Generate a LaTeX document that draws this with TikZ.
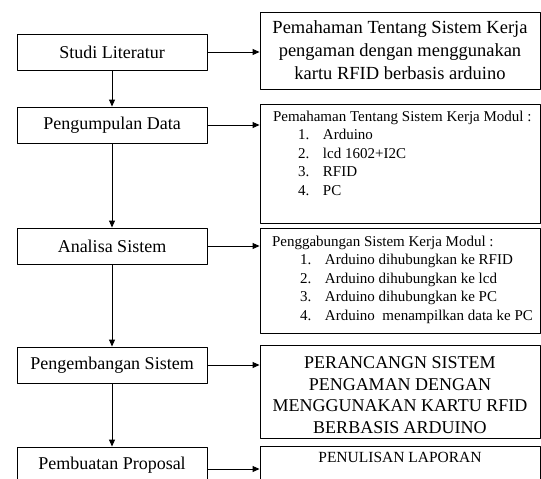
\documentclass[tikz,border=0pt]{standalone}
\usepackage{fontspec}
\setmainfont{Liberation Serif}
\usetikzlibrary{arrows.meta,positioning}
\newcommand{\moditem}[3][25pt]{\hspace*{#1}\makebox[25pt][l]{#2}#3}
\begin{document}
\begin{tikzpicture}[x=1pt, y=-1pt, line cap=round, line join=round, line width=0.9pt, >={Triangle[length=7pt,width=6pt]}]
			\tikzset{step box/.style={draw, minimum width=190pt, minimum height=36pt, inner sep=0pt, font=\fontsize{18}{22}\selectfont},
				info box/.style={draw, minimum width=280pt, inner sep=0pt},
				info text/.style={anchor=north west, inner sep=0pt, align=left, font=\fontsize{15}{18.5}\selectfont}}
			\useasboundingbox (0,0) rectangle (541,479);
			\clip (0,0) rectangle (541,479);
			\node[step box] (studi) at (112,52) {Studi Literatur};
			\node[step box] (pengumpulan) at (112,125) {Pengumpulan Data};
			\node[step box] (analisa) at (112,246) {Analisa Sistem};
			\node[step box] (pengembangan) at (112,365) {Pengembangan Sistem};
			\node[step box] (pembuatan) at (112,465) {Pembuatan Proposal};
			\node[info box, minimum height=77pt, align=center, font=\fontsize{18.5}{23}\selectfont] (pemahaman) at (400,50.5) {Pemahaman Tentang Sistem Kerja\\pengaman dengan menggunakan\\kartu RFID berbasis arduino};
			\node[info box, minimum height=119pt] (modul) at (400,163.5) {};
			\node[info box, minimum height=105pt] (gabung) at (400,280.5) {};
			\node[info box, minimum height=93pt] (rancang) at (400,391.5) {};
			\node[info box, minimum height=64pt] (laporan) at (400,478) {};
			\node[info text] (modultext) at ([xshift=13pt, yshift=-7pt]modul.north west) {Pemahaman Tentang Sistem Kerja Modul :\\
				\moditem{1.}{Arduino}\\ \moditem{2.}{lcd 1602+I2C}\\ \moditem{3.}{RFID}\\ \moditem{4.}{PC}};
			\node[info text] (gabungtext) at ([xshift=12pt, yshift=-8pt]gabung.north west) {Penggabungan Sistem Kerja Modul :\\
				\moditem[28pt]{1.}{Arduino dihubungkan ke RFID}\\ \moditem[28pt]{2.}{Arduino dihubungkan ke lcd}\\
				\moditem[28pt]{3.}{Arduino dihubungkan ke PC}\\ \moditem[28pt]{4.}{Arduino\ \ menampilkan data ke PC}};
			\node[inner sep=0pt, align=center, font=\fontsize{18}{21.7}\selectfont] (rancangtext) at ([yshift=-3.5pt]rancang.center) {PERANCANGN SISTEM\\PENGAMAN DENGAN\\MENGGUNAKAN KARTU RFID\\BERBASIS ARDUINO};
			\node[anchor=north, inner sep=0pt, font=\fontsize{15.5}{18}\selectfont] (laporantext) at ([yshift=-6pt]laporan.north) {PENULISAN LAPORAN};
			\draw[->] (studi) -- (pengumpulan);
			\draw[->] (pengumpulan) -- (analisa);
			\draw[->] (analisa) -- (pengembangan);
			\draw[->] (pengembangan) -- (pembuatan);
			\draw[->] (studi.east) -- (studi.east -| pemahaman.west);
			\draw[->] (pengumpulan.east) -- (pengumpulan.east -| modul.west);
			\draw[->] (analisa.east) -- (analisa.east -| gabung.west);
			\draw[->] (pengembangan.east) -- (pengembangan.east -| rancang.west);
			\draw[->] ([yshift=-4pt]pembuatan.east) -- ([yshift=-4pt]pembuatan.east -| laporan.west);
		\end{tikzpicture}
\end{document}
